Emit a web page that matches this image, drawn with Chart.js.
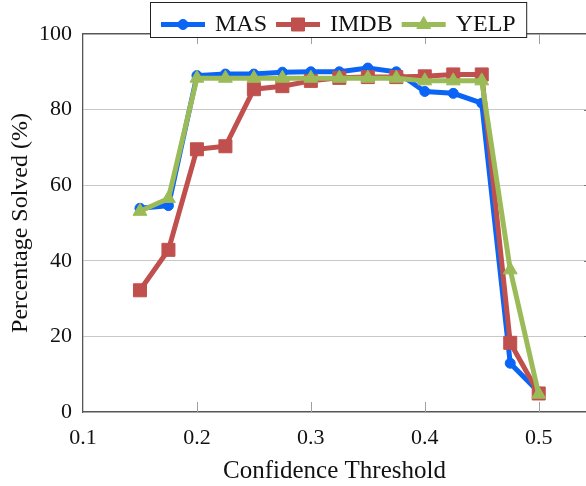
<!DOCTYPE html>
<html>
<head>
<meta charset="utf-8">
<script src="https://cdn.jsdelivr.net/npm/chart.js@4/dist/chart.umd.min.js"></script>
<style>
html,body{margin:0;padding:0;background:#fff;overflow:hidden;}
canvas{display:block;}
</style>
</head>
<body>
<canvas id="c" width="586" height="486"></canvas>
<script>
const thresholds = [0.15,0.175,0.2,0.225,0.25,0.275,0.3,0.325,0.35,0.375,0.4,0.425,0.45,0.475,0.5];
const masValues  = [53.9,54.6,89.0,89.4,89.4,89.9,90.0,90.0,91.0,90.0,84.8,84.3,81.7,12.9,5.3];
const imdbValues = [32.2,42.9,69.5,70.3,85.4,86.2,87.6,88.4,88.6,88.6,88.8,89.3,89.3,18.3,4.9];
const yelpValues = [53.1,56.5,88.3,88.3,88.3,88.3,88.3,88.3,88.3,88.3,87.6,87.6,87.6,37.6,4.7];
const xTicks = [0.1,0.2,0.3,0.4,0.5];
const yTicks = [0,20,40,60,80,100];
const seriesNames = ['MAS','IMDB','YELP'];

const FONT = "'Liberation Serif','DejaVu Serif',serif";
const XMIN = 0.1, XMAX = 0.5415;
const AXIS = '#555555';

function pts(vals){ return thresholds.map((x,i)=>({x:x,y:vals[i]})); }

const styles = [
  {color:'#0a64f5', pointStyle:'circle', radius:5, order:3},
  {color:'#c0504d', pointStyle:'rect', radius:9.2, order:2},
  {color:'#9bbb59', pointStyle:'triangle', radius:8, order:1}
];
const allValues = [masValues, imdbValues, yelpValues];

const datasets = seriesNames.map((name,i)=>({
  label: name,
  data: pts(allValues[i]),
  borderColor: styles[i].color,
  backgroundColor: styles[i].color,
  pointBackgroundColor: styles[i].color,
  pointBorderColor: styles[i].color,
  pointStyle: styles[i].pointStyle,
  pointRadius: styles[i].radius,
  pointHoverRadius: styles[i].radius,
  pointBorderWidth: 1,
  borderWidth: 5,
  tension: 0,
  order: styles[i].order,
  clip: false
}));

function drawMarker(ctx, style, r, x, y, color){
  ctx.save();
  ctx.fillStyle = color; ctx.strokeStyle = color; ctx.lineWidth = 1;
  ctx.beginPath();
  if (style === 'circle') {
    ctx.arc(x, y, r, 0, Math.PI*2);
  } else if (style === 'rect') {
    const s = Math.SQRT1_2 * r;
    ctx.rect(x - s, y - s, 2*s, 2*s);
  } else if (style === 'triangle') {
    let a = 0;
    ctx.moveTo(x + Math.sin(a)*r, y - Math.cos(a)*r);
    a += 2*Math.PI/3;
    ctx.lineTo(x + Math.sin(a)*r, y - Math.cos(a)*r);
    a += 2*Math.PI/3;
    ctx.lineTo(x + Math.sin(a)*r, y - Math.cos(a)*r);
    ctx.closePath();
  }
  ctx.fill(); ctx.stroke();
  ctx.restore();
}

const tickMarks = {
  id: 'tickMarks',
  beforeDatasetsDraw(chart){
    const {ctx, chartArea} = chart;
    const xs = chart.scales.x;
    const ys = chart.scales.y;
    ctx.save();
    ctx.strokeStyle = '#a0a0a0';
    ctx.lineWidth = 1;
    xTicks.forEach(v => {
      if (v === XMIN) return;
      const px = Math.round(xs.getPixelForValue(v)) + 0.5;
      ctx.beginPath();
      ctx.moveTo(px, chartArea.bottom); ctx.lineTo(px, chartArea.bottom - 10);
      ctx.moveTo(px, chartArea.top); ctx.lineTo(px, chartArea.top + 10);
      ctx.stroke();
    });
    ctx.strokeStyle = '#777777';
    yTicks.forEach(v => {
      if (v === 0 || v === 100) return;
      const py = Math.round(ys.getPixelForValue(v)) + 0.5;
      ctx.beginPath();
      ctx.moveTo(chartArea.right - 2, py); ctx.lineTo(chartArea.right, py);
      ctx.stroke();
    });
    ctx.restore();
  }
};

const boxLegend = {
  id: 'boxLegend',
  afterDraw(chart){
    const ctx = chart.ctx;
    ctx.save();
    ctx.font = '24px ' + FONT;
    const lineLen = 44, gapLT = 10, gapItem = 9, padL = 10.5, padR = 11;
    let widths = seriesNames.map(n => ctx.measureText(n).width);
    let total = padL + padR;
    widths.forEach((w,i)=>{ total += lineLen + gapLT + w + (i < widths.length-1 ? gapItem : 0); });
    const bx = 150.5, by = 2.5, bh = 35;
    ctx.fillStyle = '#ffffff';
    ctx.fillRect(bx, by, total, bh);
    ctx.strokeStyle = '#222222';
    ctx.lineWidth = 1;
    ctx.strokeRect(bx, by, total, bh);
    let x = bx + padL;
    const ly = 24.5, ty = 30.5;
    seriesNames.forEach((n,i)=>{
      const st = styles[i];
      ctx.strokeStyle = st.color;
      ctx.lineWidth = 5;
      ctx.beginPath(); ctx.moveTo(x, ly); ctx.lineTo(x + lineLen, ly); ctx.stroke();
      drawMarker(ctx, st.pointStyle, st.radius, x + lineLen/2, ly, st.color);
      ctx.fillStyle = '#111111';
      ctx.textBaseline = 'alphabetic';
      ctx.textAlign = 'left';
      ctx.fillText(n, x + lineLen + gapLT, ty);
      x += lineLen + gapLT + widths[i] + gapItem;
    });
    ctx.restore();
  }
};

new Chart(document.getElementById('c'), {
  type: 'line',
  data: { datasets: datasets },
  plugins: [tickMarks, boxLegend],
  options: {
    responsive: false,
    animation: false,
    devicePixelRatio: 1,
    layout: { padding: 0, autoPadding: false },
    plugins: { legend: { display: false }, tooltip: { enabled: false } },
    scales: {
      x: {
        type: 'linear', position: 'bottom', min: XMIN, max: XMAX,
        afterBuildTicks: s => { s.ticks = xTicks.map(v => ({value: v})); },
        afterFit: s => { s.height = 74; s.paddingLeft = 0; s.paddingRight = 0; },
        grid: { display: false },
        border: { display: true, color: AXIS, width: 1.3 },
        ticks: { padding: 5, color: '#111', font: { family: FONT, size: 22 },
                 maxRotation: 0, autoSkip: false,
                 callback: v => Number(v).toFixed(1) },
        title: { display: true, text: 'Confidence Threshold', color: '#111',
                 font: { family: FONT, size: 25 }, padding: { top: 0, bottom: 0 } }
      },
      xTop: {
        type: 'linear', position: 'top', min: XMIN, max: XMAX,
        afterFit: s => { s.height = 34; s.paddingLeft = 0; s.paddingRight = 0; },
        grid: { display: false },
        border: { display: true, color: AXIS, width: 1.3 },
        ticks: { display: false }
      },
      y: {
        type: 'linear', position: 'left', min: 0, max: 100,
        afterBuildTicks: s => { s.ticks = yTicks.map(v => ({value: v})); },
        afterFit: s => { s.width = 83; },
        grid: { color: '#c8c8c8', lineWidth: 1, drawTicks: false },
        border: { display: true, color: AXIS, width: 1.3 },
        ticks: { padding: 11, color: '#111', font: { family: FONT, size: 22 } },
        title: { display: true, text: 'Percentage Solved (%)', color: '#111',
                 font: { family: FONT, size: 24 }, padding: { top: 6.6, bottom: 0 } }
      }
    }
  }
});
</script>
</body>
</html>
